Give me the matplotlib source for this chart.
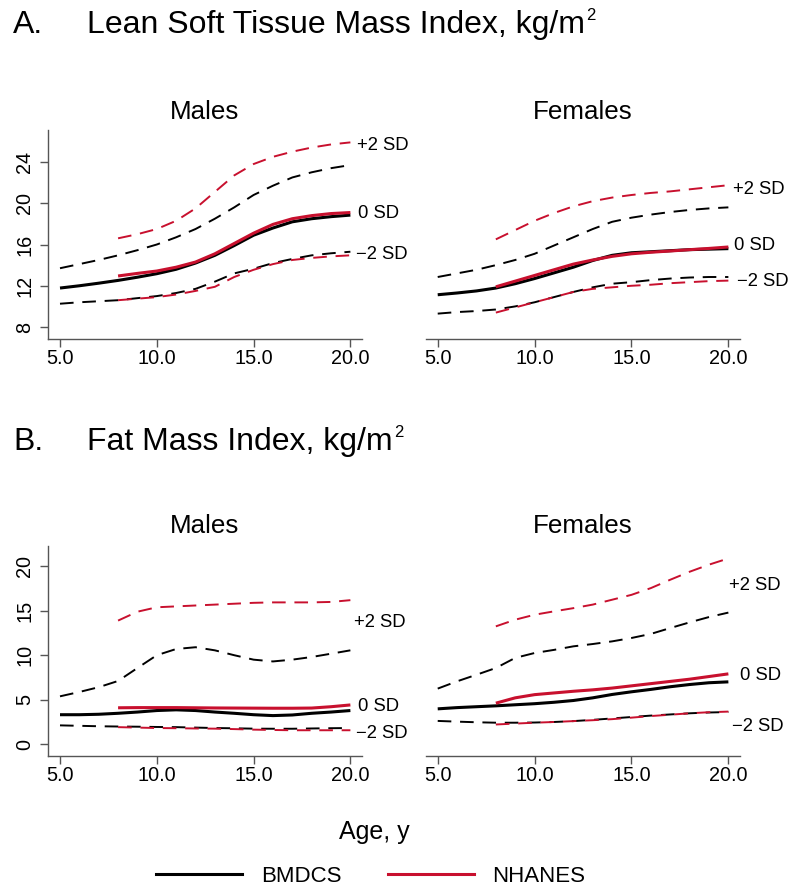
import numpy as np
import matplotlib
matplotlib.use("Agg")
import matplotlib.pyplot as plt
from matplotlib.lines import Line2D

plt.rcParams["font.family"] = "Liberation Sans"

RED = "#C8102E"
GREY = "#555555"

age_b = [5, 6, 7, 8, 9, 10, 11, 12, 13, 14, 15, 16, 17, 18, 19, 20]
age_n = [8, 9, 10, 11, 12, 13, 14, 15, 16, 17, 18, 19, 20]

# Lean soft tissue mass index, males
lst_m_b_p2 = [13.7, 14.1, 14.5, 14.95, 15.45, 16.0, 16.7, 17.5, 18.5, 19.6, 20.8, 21.7, 22.5, 23.0, 23.4, 23.7]
lst_m_b_0 = [11.78, 12.0, 12.25, 12.52, 12.83, 13.17, 13.6, 14.2, 14.95, 15.9, 16.9, 17.6, 18.2, 18.5, 18.7, 18.85]
lst_m_b_m2 = [10.26, 10.4, 10.5, 10.6, 10.8, 11.0, 11.3, 11.7, 12.4, 13.2, 13.65, 14.2, 14.6, 14.95, 15.15, 15.3]
lst_m_n_p2 = [16.6, 17.0, 17.5, 18.3, 19.5, 21.1, 22.7, 23.8, 24.5, 25.0, 25.4, 25.7, 25.9]
lst_m_n_0 = [12.95, 13.2, 13.43, 13.8, 14.3, 15.1, 16.1, 17.1, 17.95, 18.5, 18.8, 19.0, 19.1]
lst_m_n_m2 = [10.6, 10.75, 10.9, 11.15, 11.5, 11.9, 12.85, 13.55, 14.1, 14.5, 14.7, 14.85, 14.95]

# Lean soft tissue mass index, females
lst_f_b_p2 = [12.85, 13.2, 13.55, 14.0, 14.5, 15.1, 15.9, 16.7, 17.5, 18.2, 18.6, 18.9, 19.15, 19.35, 19.5, 19.6]
lst_f_b_0 = [11.13, 11.3, 11.5, 11.78, 12.2, 12.7, 13.25, 13.8, 14.45, 14.95, 15.2, 15.3, 15.4, 15.5, 15.55, 15.6]
lst_f_b_m2 = [9.3, 9.45, 9.55, 9.7, 10.0, 10.4, 10.9, 11.4, 11.85, 12.2, 12.35, 12.55, 12.7, 12.8, 12.85, 12.85]
lst_f_n_p2 = [16.5, 17.4, 18.3, 19.05, 19.7, 20.2, 20.55, 20.8, 21.0, 21.15, 21.35, 21.55, 21.75]
lst_f_n_0 = [11.9, 12.45, 13.0, 13.55, 14.1, 14.5, 14.85, 15.1, 15.25, 15.37, 15.5, 15.62, 15.76]
lst_f_n_m2 = [9.4, 9.9, 10.4, 10.9, 11.4, 11.7, 11.85, 12.0, 12.1, 12.25, 12.35, 12.45, 12.5]

# Fat mass index, males
fm_m_b_p2 = [5.37, 5.86, 6.4, 7.1, 8.56, 10.0, 10.7, 10.9, 10.55, 10.0, 9.5, 9.3, 9.5, 9.8, 10.17, 10.55]
fm_m_b_0 = [3.3, 3.3, 3.35, 3.46, 3.6, 3.77, 3.85, 3.77, 3.6, 3.46, 3.3, 3.2, 3.27, 3.46, 3.6, 3.77]
fm_m_b_m2 = [2.1, 2.05, 2.0, 1.97, 1.95, 1.92, 1.9, 1.85, 1.8, 1.77, 1.73, 1.72, 1.72, 1.75, 1.78, 1.8]
fm_m_n_p2 = [13.9, 14.9, 15.4, 15.5, 15.6, 15.7, 15.8, 15.9, 15.95, 15.95, 15.95, 16.0, 16.2]
fm_m_n_0 = [4.08, 4.1, 4.1, 4.1, 4.08, 4.06, 4.05, 4.04, 4.03, 4.03, 4.05, 4.2, 4.4]
fm_m_n_m2 = [1.9, 1.85, 1.8, 1.78, 1.75, 1.73, 1.68, 1.62, 1.58, 1.55, 1.55, 1.55, 1.55]

# Fat mass index, females
fm_f_b_p2 = [6.24, 7.06, 7.8, 8.56, 9.7, 10.25, 10.6, 11.0, 11.26, 11.56, 11.94, 12.4, 13.06, 13.7, 14.3, 14.8]
fm_f_b_0 = [3.96, 4.1, 4.2, 4.3, 4.42, 4.54, 4.7, 4.9, 5.2, 5.58, 5.88, 6.15, 6.45, 6.7, 6.9, 7.0]
fm_f_b_m2 = [2.6, 2.52, 2.45, 2.4, 2.4, 2.42, 2.48, 2.58, 2.72, 2.88, 3.04, 3.2, 3.33, 3.46, 3.55, 3.6]
fm_f_n_p2 = [13.25, 14.0, 14.56, 14.94, 15.3, 15.7, 16.25, 16.8, 17.56, 18.5, 19.4, 20.2, 20.9]
fm_f_n_0 = [4.6, 5.2, 5.56, 5.75, 5.94, 6.1, 6.3, 6.55, 6.8, 7.05, 7.3, 7.6, 7.9]
fm_f_n_m2 = [2.2, 2.3, 2.4, 2.48, 2.58, 2.68, 2.8, 2.97, 3.15, 3.3, 3.46, 3.58, 3.65]

x_ticks = [5, 10, 15, 20]
x_ticklabels = ["5.0", "10.0", "15.0", "20.0"]
lst_yticks = [8, 12, 16, 20, 24]
fm_yticks = [0, 5, 10, 15, 20]
sd_labels = ["+2 SD", "0 SD", "\u22122 SD"]

W, H = 790, 886
fig = plt.figure(figsize=(W / 100, H / 100), dpi=100)


def px_axes(x0, y_top, x1, y_bot):
    return fig.add_axes([x0 / W, 1 - y_bot / H, (x1 - x0) / W, (y_bot - y_top) / H])


def draw_panel(ax, series, ylim, yticks, show_y, sd_pos):
    (b_p2, b_0, b_m2, n_p2, n_0, n_m2) = series
    dash = dict(lw=1.4, dashes=(7, 4.5))
    ax.plot(age_b, b_p2, color="black", **dash)
    ax.plot(age_b, b_m2, color="black", **dash)
    ax.plot(age_n, n_p2, color=RED, **dash)
    ax.plot(age_n, n_m2, color=RED, **dash)
    ax.plot(age_b, b_0, color="black", lw=2.2, solid_capstyle="butt")
    ax.plot(age_n, n_0, color=RED, lw=2.2, solid_capstyle="butt")

    ax.set_xlim(4.38, 20.6)
    ax.set_ylim(*ylim)
    ax.set_xticks(x_ticks)
    ax.set_xticklabels(x_ticklabels)
    ax.tick_params(axis="x", direction="out", length=5.5, width=1, color=GREY,
                   labelsize=14.3, pad=1.5)
    for s in ["top", "right"]:
        ax.spines[s].set_visible(False)
    ax.spines["bottom"].set_color(GREY)
    ax.spines["bottom"].set_linewidth(1)
    if show_y:
        ax.set_yticks(yticks)
        ax.tick_params(axis="y", direction="out", length=5.5, width=1, color=GREY,
                       labelsize=14.3, pad=4.5)
        for lab in ax.get_yticklabels():
            lab.set_rotation(90)
            lab.set_va("center")
        ax.spines["left"].set_color(GREY)
        ax.spines["left"].set_linewidth(1)
    else:
        ax.spines["left"].set_visible(False)
        ax.set_yticks([])

    for label, (x, y) in zip(sd_labels, sd_pos):
        ax.text(x, y, label, fontsize=13.3, va="center", ha="left", clip_on=False)


ax1 = px_axes(48, 130, 362, 339)
draw_panel(ax1, (lst_m_b_p2, lst_m_b_0, lst_m_b_m2, lst_m_n_p2, lst_m_n_0, lst_m_n_m2),
           (6.84, 27.1), lst_yticks, True,
           [(20.36, 25.55), (20.4, 18.96), (20.3, 15.0)])

ax2 = px_axes(425.7, 130, 740, 339)
draw_panel(ax2, (lst_f_b_p2, lst_f_b_0, lst_f_b_m2, lst_f_n_p2, lst_f_n_0, lst_f_n_m2),
           (6.84, 27.1), lst_yticks, False,
           [(20.26, 21.3), (20.3, 15.95), (20.45, 12.46)])

ax3 = px_axes(48, 546, 362, 756)
draw_panel(ax3, (fm_m_b_p2, fm_m_b_0, fm_m_b_m2, fm_m_n_p2, fm_m_n_0, fm_m_n_m2),
           (-1.35, 22.3), fm_yticks, True,
           [(20.2, 13.74), (20.4, 4.28), (20.3, 1.2)])

ax4 = px_axes(425.7, 546, 740, 756)
draw_panel(ax4, (fm_f_b_p2, fm_f_b_0, fm_f_b_m2, fm_f_n_p2, fm_f_n_0, fm_f_n_m2),
           (-1.35, 22.3), fm_yticks, False,
           [(20.03, 17.9), (20.6, 7.77), (20.19, 1.95)])

# panel headings, with a small raised "2" after kg/m
for letter, title, base in [("A.", "Lean Soft Tissue Mass Index, kg/m", 33),
                            ("B.", "Fat Mass Index, kg/m", 450)]:
    fig.text(13 / W, 1 - base / H, letter, fontsize=23, va="baseline", ha="left")
    t = fig.text(87 / W, 1 - base / H, title, fontsize=23, va="baseline", ha="left")
    ax1.annotate("2", xy=(1, 1), xycoords=t, xytext=(1, 1.5),
                 textcoords="offset points", ha="left", va="top",
                 fontsize=12, annotation_clip=False)

fig.text(205 / W, 1 - 119 / H, "Males", fontsize=18.7, ha="center", va="baseline")
fig.text(583 / W, 1 - 119 / H, "Females", fontsize=18.7, ha="center", va="baseline")
fig.text(205 / W, 1 - 533 / H, "Males", fontsize=18.7, ha="center", va="baseline")
fig.text(583 / W, 1 - 533 / H, "Females", fontsize=18.7, ha="center", va="baseline")

fig.text(374.5 / W, 1 - 839 / H, "Age, y", fontsize=18, ha="center", va="baseline")

handles = [Line2D([], [], color="black", lw=2.2),
           Line2D([], [], color=RED, lw=2.2)]
fig.legend(handles, ["BMDCS", "NHANES"], loc="center",
           bbox_to_anchor=(371 / W, 1 - 876 / H), ncol=2, frameon=False,
           fontsize=16, handlelength=3.85, handletextpad=0.85,
           columnspacing=2.1, borderpad=0, borderaxespad=0)

fig.savefig("out.png", dpi=100)
